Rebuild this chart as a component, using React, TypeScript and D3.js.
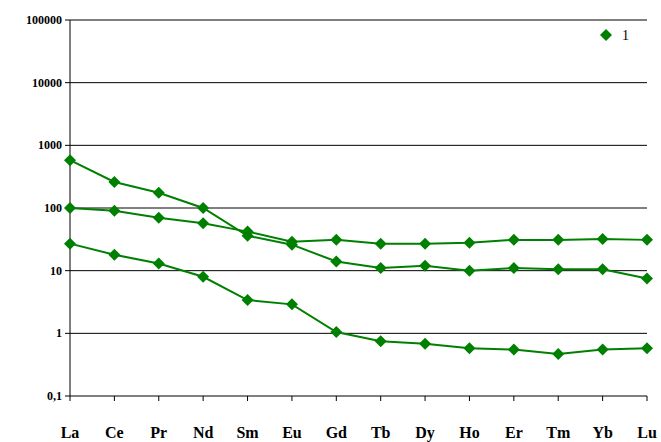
import React from 'react';
import * as d3 from 'd3';

const elements = ['La', 'Ce', 'Pr', 'Nd', 'Sm', 'Eu', 'Gd', 'Tb', 'Dy', 'Ho', 'Er', 'Tm', 'Yb', 'Lu'];
const seriesA = [580, 260, 175, 100, 36, 26, 14, 11, 12, 10, 11, 10.5, 10.5, 7.5];
const seriesB = [100, 90, 70, 57, 42, 29, 31, 27, 27, 28, 31, 31, 32, 31];
const seriesC = [27, 18, 13, 8, 3.4, 2.9, 1.05, 0.75, 0.68, 0.58, 0.55, 0.47, 0.55, 0.58];
const yTicks = [0.1, 1, 10, 100, 1000, 10000, 100000];

const W = 661, H = 442;
const left = 70, right = 647, top = 20, bottom = 396;
const green = '#008000';

export default function App() {
  const x = d3.scalePoint<string>().domain(elements).range([left, right]);
  const y = d3.scaleLog().domain([0.1, 100000]).range([bottom, top]);
  const line = d3.line<number>().x((_, i) => x(elements[i])!).y(d => y(d));
  const diamond = (cx: number, cy: number, r = 6) =>
    `M${cx},${cy - r}L${cx + r},${cy}L${cx},${cy + r}L${cx - r},${cy}Z`;
  const fmt = (v: number) => (v < 1 ? '0,1' : String(v));

  return (
    <svg width={W} height={H} style={{ position: 'absolute', left: 0, top: 0 }}
      fontFamily="Liberation Serif, serif" fontWeight="bold">
      <rect x={0} y={0} width={W} height={H} fill="white" />
      {yTicks.map(t => (
        <g key={t}>
          <line x1={left} x2={right} y1={y(t)} y2={y(t)} stroke="black" strokeWidth={1} />
          <line x1={left - 5} x2={left} y1={y(t)} y2={y(t)} stroke="black" />
          <text x={left - 8} y={y(t) + 4} textAnchor="end" fontSize={12}>{fmt(t)}</text>
        </g>
      ))}
      <line x1={left} x2={left} y1={top} y2={bottom} stroke="black" />
      {elements.map(e => (
        <g key={e}>
          <line x1={x(e)} x2={x(e)} y1={bottom} y2={bottom + 5} stroke="black" />
          <text x={x(e)} y={bottom + 42} textAnchor="middle" fontSize={16}>{e}</text>
        </g>
      ))}
      {[seriesA, seriesB, seriesC].map((s, k) => (
        <g key={k}>
          <path d={line(s)!} fill="none" stroke={green} strokeWidth={2} />
          {s.map((v, i) => (
            <path key={i} d={diamond(x(elements[i])!, y(v))} fill={green} />
          ))}
        </g>
      ))}
      <path d={diamond(606, 35)} fill={green} />
      <text x={622} y={40} fontSize={14} fontWeight="normal">1</text>
    </svg>
  );
}
